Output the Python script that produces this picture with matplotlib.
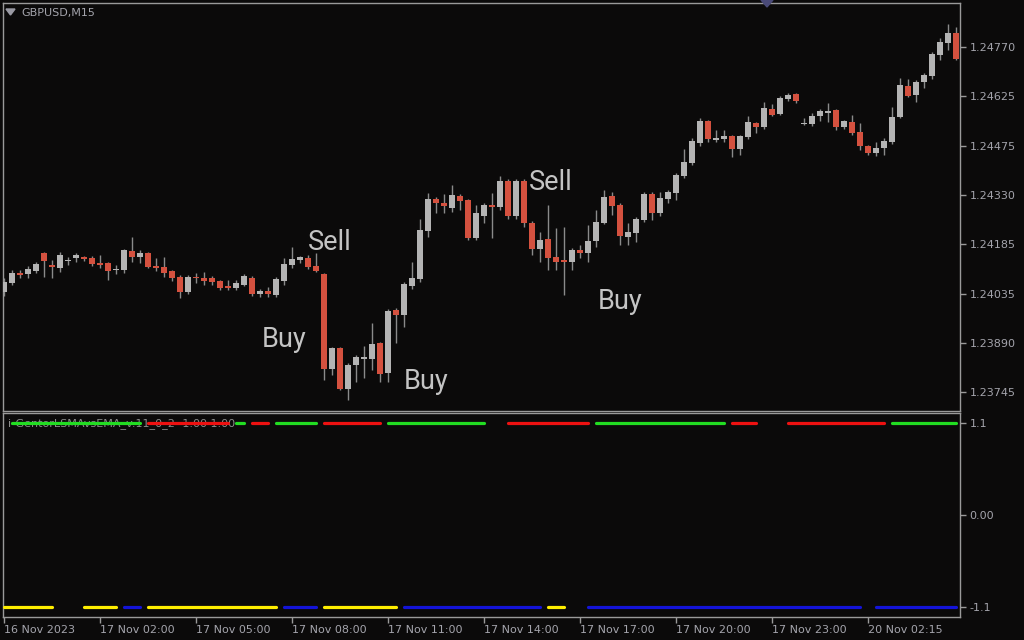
import matplotlib
matplotlib.use("Agg")
import matplotlib.pyplot as plt
import matplotlib.transforms as mtransforms
from matplotlib.patches import Polygon

# GBPUSD M15 candles (bar 0 = 16 Nov 2023 23:00)
opens = [1.24042, 1.24069, 1.24099, 1.24096, 1.24105, 1.24158, 1.24123, 1.24114, 1.24134, 1.24143,
         1.24146, 1.24143, 1.24128, 1.24128, 1.24108, 1.24108, 1.24164, 1.24146, 1.24158, 1.24120,
         1.24117, 1.24105, 1.24087, 1.24042, 1.24087, 1.24084, 1.24084, 1.24075, 1.24060, 1.24054,
         1.24063, 1.24084, 1.24036, 1.24045, 1.24033, 1.24075, 1.24123, 1.24137, 1.24143, 1.24120,
         1.24096, 1.23814, 1.23876, 1.23754, 1.23826, 1.23843, 1.23843, 1.23891, 1.23802, 1.23989,
         1.23974, 1.24060, 1.24081, 1.24224, 1.24319, 1.24307, 1.24292, 1.24327, 1.24316, 1.24203,
         1.24268, 1.24301, 1.24295, 1.24372, 1.24268, 1.24372, 1.24247, 1.24170, 1.24200, 1.24146,
         1.24137, 1.24131, 1.24167, 1.24158, 1.24194, 1.24247, 1.24327, 1.24301, 1.24206, 1.24218,
         1.24256, 1.24333, 1.24277, 1.24319, 1.24336, 1.24387, 1.24425, 1.24485, 1.24550, 1.24494,
         1.24497, 1.24506, 1.24467, 1.24503, 1.24544, 1.24532, 1.24586, 1.24571, 1.24616, 1.24630,
         1.24541, 1.24541, 1.24565, 1.24574, 1.24583, 1.24532, 1.24547, 1.24518, 1.24476, 1.24455,
         1.24470, 1.24488, 1.24562, 1.24654, 1.24627, 1.24666, 1.24684, 1.24746, 1.24782, 1.24812]
highs = [1.24084, 1.24108, 1.24108, 1.24120, 1.24131, 1.24161, 1.24137, 1.24161, 1.24146, 1.24158,
         1.24149, 1.24149, 1.24152, 1.24131, 1.24123, 1.24170, 1.24206, 1.24167, 1.24161, 1.24143,
         1.24146, 1.24108, 1.24093, 1.24093, 1.24099, 1.24102, 1.24090, 1.24078, 1.24078, 1.24078,
         1.24096, 1.24090, 1.24051, 1.24057, 1.24087, 1.24143, 1.24176, 1.24149, 1.24152, 1.24158,
         1.24099, 1.23879, 1.23879, 1.23831, 1.23855, 1.23882, 1.23950, 1.23894, 1.23992, 1.23995,
         1.24072, 1.24131, 1.24259, 1.24336, 1.24325, 1.24333, 1.24360, 1.24333, 1.24319, 1.24301,
         1.24307, 1.24336, 1.24387, 1.24378, 1.24378, 1.24378, 1.24253, 1.24221, 1.24301, 1.24232,
         1.24235, 1.24173, 1.24182, 1.24241, 1.24286, 1.24345, 1.24339, 1.24307, 1.24247, 1.24265,
         1.24339, 1.24339, 1.24339, 1.24345, 1.24396, 1.24467, 1.24500, 1.24559, 1.24553, 1.24523,
         1.24523, 1.24509, 1.24509, 1.24565, 1.24547, 1.24607, 1.24601, 1.24625, 1.24633, 1.24633,
         1.24559, 1.24574, 1.24586, 1.24604, 1.24586, 1.24553, 1.24568, 1.24544, 1.24479, 1.24488,
         1.24500, 1.24592, 1.24678, 1.24675, 1.24672, 1.24693, 1.24755, 1.24797, 1.24838, 1.24829]
lows = [1.24030, 1.24063, 1.24084, 1.24084, 1.24099, 1.24087, 1.24084, 1.24102, 1.24123, 1.24131,
        1.24134, 1.24120, 1.24114, 1.24078, 1.24096, 1.24099, 1.24131, 1.24128, 1.24114, 1.24105,
        1.24087, 1.24075, 1.24025, 1.24036, 1.24069, 1.24063, 1.24063, 1.24048, 1.24048, 1.24048,
        1.24060, 1.24030, 1.24028, 1.24028, 1.24028, 1.24063, 1.24114, 1.24128, 1.24111, 1.24102,
        1.23781, 1.23796, 1.23751, 1.23722, 1.23775, 1.23787, 1.23811, 1.23775, 1.23775, 1.23891,
        1.23938, 1.24051, 1.24072, 1.24206, 1.24277, 1.24277, 1.24280, 1.24286, 1.24197, 1.24197,
        1.24247, 1.24203, 1.24286, 1.24259, 1.24259, 1.24235, 1.24152, 1.24131, 1.24108, 1.24108,
        1.24033, 1.24108, 1.24143, 1.24131, 1.24176, 1.24244, 1.24271, 1.24182, 1.24182, 1.24191,
        1.24250, 1.24256, 1.24268, 1.24307, 1.24316, 1.24381, 1.24420, 1.24476, 1.24488, 1.24488,
        1.24488, 1.24443, 1.24449, 1.24497, 1.24515, 1.24526, 1.24565, 1.24568, 1.24610, 1.24604,
        1.24538, 1.24535, 1.24550, 1.24547, 1.24523, 1.24526, 1.24509, 1.24464, 1.24449, 1.24446,
        1.24449, 1.24482, 1.24559, 1.24622, 1.24607, 1.24648, 1.24675, 1.24731, 1.24761, 1.24731]
closes = [1.24072, 1.24099, 1.24093, 1.24111, 1.24126, 1.24134, 1.24117, 1.24152, 1.24137, 1.24152,
          1.24140, 1.24126, 1.24123, 1.24105, 1.24111, 1.24167, 1.24146, 1.24158, 1.24117, 1.24114,
          1.24099, 1.24084, 1.24042, 1.24087, 1.24084, 1.24075, 1.24072, 1.24054, 1.24054, 1.24069,
          1.24090, 1.24036, 1.24045, 1.24036, 1.24081, 1.24126, 1.24140, 1.24146, 1.24117, 1.24105,
          1.23814, 1.23876, 1.23754, 1.23826, 1.23849, 1.23849, 1.23888, 1.23799, 1.23986, 1.23974,
          1.24066, 1.24084, 1.24227, 1.24319, 1.24307, 1.24298, 1.24330, 1.24313, 1.24203, 1.24277,
          1.24301, 1.24295, 1.24372, 1.24268, 1.24372, 1.24247, 1.24170, 1.24197, 1.24143, 1.24131,
          1.24131, 1.24167, 1.24158, 1.24194, 1.24250, 1.24325, 1.24298, 1.24209, 1.24221, 1.24259,
          1.24333, 1.24277, 1.24322, 1.24339, 1.24390, 1.24428, 1.24491, 1.24550, 1.24497, 1.24500,
          1.24506, 1.24467, 1.24506, 1.24547, 1.24532, 1.24589, 1.24568, 1.24619, 1.24627, 1.24610,
          1.24544, 1.24565, 1.24580, 1.24580, 1.24532, 1.24550, 1.24515, 1.24476, 1.24455, 1.24470,
          1.24491, 1.24562, 1.24657, 1.24625, 1.24666, 1.24687, 1.24749, 1.24785, 1.24812, 1.24734]

price_ticks = [1.24770, 1.24625, 1.24475, 1.24330, 1.24185, 1.24035, 1.23890, 1.23745]

date_ticks = [0, 12, 24, 36, 48, 60, 72, 84, 96, 108]
date_labels = ["16 Nov 2023", "17 Nov 02:00", "17 Nov 05:00", "17 Nov 08:00", "17 Nov 11:00",
               "17 Nov 14:00", "17 Nov 17:00", "17 Nov 20:00", "17 Nov 23:00", "20 Nov 02:15"]

# signal labels: (text, bar, price)
signals = [("Sell", 40.75, 1.24188), ("Buy", 35.0, 1.23900), ("Buy", 52.75, 1.23778),
           ("Sell", 68.4, 1.24369), ("Buy", 77.0, 1.24013)]

# indicator runs (first bar, last bar, state)
top_runs = [(1, 17, "up"), (18, 28, "dn"), (29, 30, "up"), (31, 33, "dn"), (34, 39, "up"),
            (40, 47, "dn"), (48, 60, "up"), (63, 73, "dn"), (74, 90, "up"), (91, 94, "dn"),
            (98, 110, "dn"), (111, 119, "up")]
bottom_runs = [(0, 6, "up"), (10, 14, "up"), (15, 17, "dn"), (18, 34, "up"), (35, 39, "dn"),
               (40, 49, "up"), (50, 67, "dn"), (68, 70, "up"), (73, 107, "dn"), (109, 119, "dn")]
top_level, bottom_level = 1.1, -1.1

BG = "#0b0a0a"
FRAME = "#9a9a9a"
TXT = "#a4a4ac"
BULL = "#b4b4b4"
BEAR = "#d4513f"

fig = plt.figure(figsize=(10.24, 6.4), dpi=100, facecolor=BG)
ax = fig.add_axes([3 / 1024, 1 - 411 / 640, 957 / 1024, 408 / 640], facecolor=BG)
ax2 = fig.add_axes([3 / 1024, 1 - 617 / 640, 957 / 1024, 204 / 640], facecolor=BG)

# candles
for i in range(len(opens)):
    o, h, l, c = opens[i], highs[i], lows[i], closes[i]
    col = BULL if c >= o else BEAR
    ax.vlines(i, l, h, color="#8a8a8a", linewidth=1, zorder=2)
    body = max(abs(c - o), 0.00003)  # keep dojis visible
    ax.bar(i, body, bottom=min(o, c), width=0.75, color=col, linewidth=0, zorder=3)

for txt, bx, py in signals:
    ax.text(bx, py, txt, color="#c4c4c4", fontsize=19.5, family="Roboto",
            ha="center", va="center", zorder=4)

ax.set_xlim(-0.125, 119.5)
ax.set_ylim(1.236889, 1.249007)
ax.set_xticks([])
ax.yaxis.tick_right()
ax.set_yticks(price_ticks)
ax.set_yticklabels([f"{p:.5f}" for p in price_ticks])
ax.tick_params(axis="y", length=4, width=1, color=FRAME, labelcolor=TXT, labelsize=8, pad=3)

ax.text(18 / 957, 1 - 10 / 408, "GBPUSD,M15", transform=ax.transAxes,
        color=TXT, fontsize=8, ha="left", va="center")

# indicator panel
label_tr = mtransforms.blended_transform_factory(ax2.transAxes, ax2.transData)
ax2.text(5 / 957, 1.088, "i-GentorLSMAvsEMA_v.11_0_2 -1.00 1.00", transform=label_tr,
         color="#8c8c8c", fontsize=8, ha="left", va="center", zorder=1)

top_colors = {"up": "#22dd22", "dn": "#ee1111"}
bottom_colors = {"up": "#ffee00", "dn": "#1414d8"}
for a, b, st in top_runs:
    ax2.plot([a, b], [top_level, top_level], color=top_colors[st], linewidth=2.3,
             solid_capstyle="round", zorder=3)
for a, b, st in bottom_runs:
    ax2.plot([a, b], [bottom_level, bottom_level], color=bottom_colors[st], linewidth=2.3,
             solid_capstyle="round", zorder=3)

ax2.set_xlim(-0.125, 119.5)
ax2.set_ylim(-1.2195, 1.2195)
ax2.yaxis.tick_right()
ax2.set_yticks([1.1, 0.0, -1.1])
ax2.set_yticklabels(["1.1", "0.00", "-1.1"])
ax2.tick_params(axis="y", length=4, width=1, color=FRAME, labelcolor=TXT, labelsize=8, pad=3)
ax2.set_xticks(date_ticks)
ax2.set_xticklabels(date_labels)
ax2.tick_params(axis="x", length=4, width=1, color=FRAME, labelcolor=TXT, labelsize=8, pad=2)
for lbl in ax2.get_xticklabels():
    lbl.set_ha("left")

for a in (ax, ax2):
    for s in a.spines.values():
        s.set_color(FRAME)
        s.set_linewidth(1)

# small terminal markers
fig.add_artist(Polygon([[6 / 1024, 1 - 9 / 640], [15 / 1024, 1 - 9 / 640], [10.5 / 1024, 1 - 15 / 640]],
                       closed=True, transform=fig.transFigure, color="#9a9aa4", zorder=5))
fig.add_artist(Polygon([[761 / 1024, 1.0], [773 / 1024, 1.0], [767 / 1024, 1 - 7 / 640]],
                       closed=True, transform=fig.transFigure, color="#4a4a78", zorder=5))

fig.savefig("out.png", dpi=100, facecolor=BG)
